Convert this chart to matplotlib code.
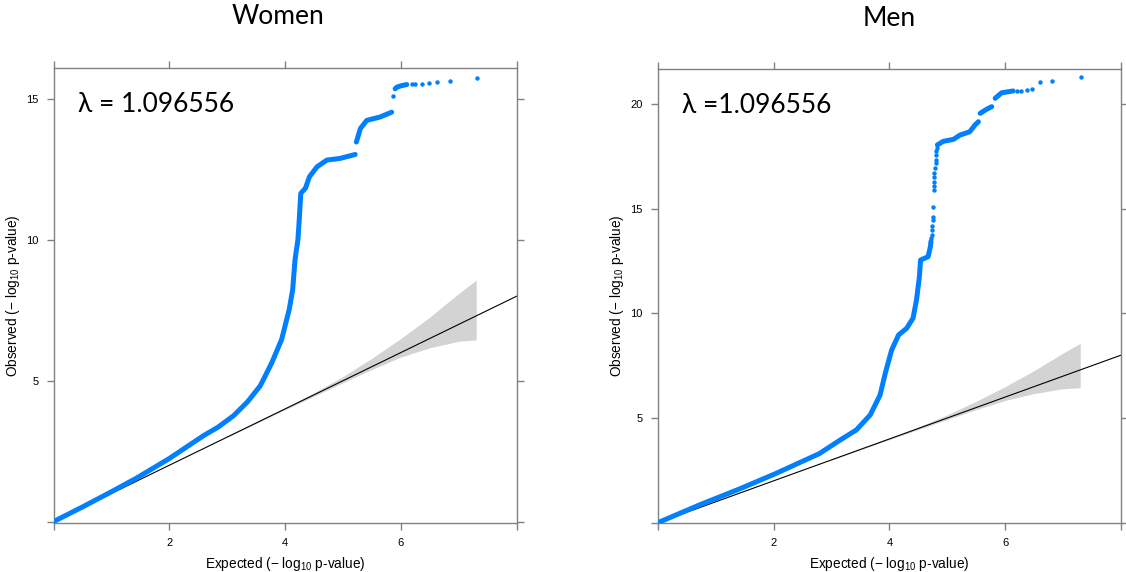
import matplotlib
matplotlib.use("Agg")
import matplotlib.pyplot as plt
import numpy as np

plt.rcParams['font.family'] = ['Liberation Sans', 'DejaVu Sans']

BLUE = "#0080ff"
AXCOL = "#808080"

# ---- Women: observed vs expected -log10 p ----
w_dense = [  # continuous thick part of the curve
    (0.0, 0.0), (0.5, 0.52), (1.0, 1.06), (1.43, 1.54), (2.0, 2.24), (2.59, 3.05),
    (2.84, 3.35), (3.11, 3.76), (3.35, 4.25), (3.57, 4.82), (3.77, 5.64),
    (3.94, 6.47), (4.07, 7.53), (4.13, 8.23), (4.17, 9.29), (4.22, 10.0),
    (4.24, 10.6), (4.26, 11.3), (4.27, 11.65), (4.35, 11.83), (4.42, 12.24),
    (4.55, 12.59), (4.72, 12.83), (4.95, 12.89), (5.21, 13.03),
]
w_upper = [
    (5.23, 13.47), (5.3, 13.95), (5.41, 14.24), (5.64, 14.36), (5.84, 14.53),
]
w_top = [
    (5.90, 15.36), (5.93, 15.42), (5.99, 15.46), (6.05, 15.49), (6.10, 15.51),
]
w_dots = [
    (5.87, 15.12), (6.19, 15.54), (6.25, 15.54), (6.36, 15.54), (6.48, 15.57),
    (6.62, 15.60), (6.84, 15.63), (7.31, 15.75),
]

# ---- Men ----
m_dense = [
    (0.0, 0.0), (0.745, 0.88), (1.4, 1.6), (2.03, 2.34), (2.79, 3.3), (3.15, 3.95),
    (3.43, 4.43), (3.67, 5.15), (3.84, 6.1), (3.93, 7.14), (4.04, 8.25),
    (4.16, 8.97), (4.3, 9.29), (4.41, 9.77), (4.47, 10.64), (4.52, 11.75),
    (4.54, 12.55), (4.67, 12.71), (4.71, 13.19), (4.72, 13.44),
]
m_upper = [
    (4.83, 18.05), (4.93, 18.22), (5.11, 18.32), (5.22, 18.52), (5.39, 18.68),
    (5.48, 19.0), (5.54, 19.16),
]
m_upper2 = [(5.57, 19.56), (5.68, 19.75), (5.77, 19.88)]
m_top = [(5.83, 20.28), (5.94, 20.54), (6.14, 20.63)]
m_dots = [
    (4.72, 13.6), (4.73, 13.75), (4.73, 13.99), (4.74, 14.2), (4.75, 14.45),
    (4.75, 14.63), (4.76, 15.1), (4.77, 15.9), (4.77, 16.1), (4.77, 16.3),
    (4.78, 16.5), (4.78, 16.69), (4.79, 16.95), (4.8, 17.17), (4.8, 17.35),
    (4.81, 17.57), (4.81, 17.75), (4.82, 17.9),
    (6.2, 20.63), (6.28, 20.64), (6.38, 20.66), (6.46, 20.72),
    (6.6, 21.07), (6.82, 21.12), (7.31, 21.28),
]

# confidence band around the null line (same for both panels)
band_x = [3.0, 4.0, 4.5, 5.0, 5.5, 6.0, 6.5, 7.0, 7.3]
band_hi = [3.02, 4.04, 4.58, 5.15, 5.8, 6.5, 7.26, 8.1, 8.57]
band_lo = [2.99, 3.97, 4.45, 4.93, 5.4, 5.84, 6.17, 6.4, 6.45]

lam_text = ["λ = 1.096556", "λ =1.096556"]
titles = ["Women", "Men"]
ylims = [(-0.05, 16.1), (0, 21.68)]
yticks = [[0, 5, 10, 15], [0, 5, 10, 15, 20]]
xticks = [0, 2, 4, 6, 8]

fig = plt.figure(figsize=(11.26, 5.72), dpi=100)
axes = [fig.add_axes([0.0476, 0.0857, 0.4113, 0.7955]),
        fig.add_axes([0.5843, 0.0862, 0.4110, 0.7932])]

panels = [
    (w_dense + [None] + w_upper + [None] + w_top, w_dots),
    (m_dense + [None] + m_upper + [None] + m_upper2 + [None] + m_top, m_dots),
]

for i, ax in enumerate(axes):
    lines, dots = panels[i]
    ax.fill_between(band_x, band_lo, band_hi, color="#d3d3d3", lw=0, zorder=1)
    ax.axline((0, 0), slope=1, color="black", lw=0.8, zorder=2)
    lx = [np.nan if p is None else p[0] for p in lines]
    ly = [np.nan if p is None else p[1] for p in lines]
    ax.plot(lx, ly, color=BLUE, lw=3.6, solid_capstyle="round",
            solid_joinstyle="round", zorder=3)
    ax.plot([p[0] for p in dots], [p[1] for p in dots], "o", color=BLUE,
            ms=3.2, mec="none", zorder=3)

    ax.set_xlim(0, 8)
    ax.set_ylim(*ylims[i])
    ax.set_xticks(xticks)
    ax.set_xticklabels([str(t) if 0 < t < 8 else "" for t in xticks])
    ax.set_yticks(yticks[i])
    ax.set_yticklabels([str(t) if t > 0 else "" for t in yticks[i]])
    ax.tick_params(direction="out", length=5, width=1, color=AXCOL,
                   labelsize=8, pad=6, top=True, right=True)
    for s in ax.spines.values():
        s.set_color(AXCOL)
        s.set_linewidth(1.0)
    ax.set_xlabel(r"Expected (− $\mathregular{log_{10}}$ p-value)", fontsize=9.8,
                  labelpad=5)
    ax.set_ylabel(r"Observed (− $\mathregular{log_{10}}$ p-value)", fontsize=9.8,
                  labelpad=3)
    ax.text(0.052, 0.903, lam_text[i], transform=ax.transAxes, fontsize=19,
            family="Lato", va="baseline", ha="left")

fig.text(278 / 1126, 1 - 17 / 572, titles[0], fontsize=19, family="Lato",
         ha="center", va="center")
fig.text(889 / 1126, 1 - 18 / 572, titles[1], fontsize=19, family="Lato",
         ha="center", va="center")

fig.savefig("out.png", dpi=100)
